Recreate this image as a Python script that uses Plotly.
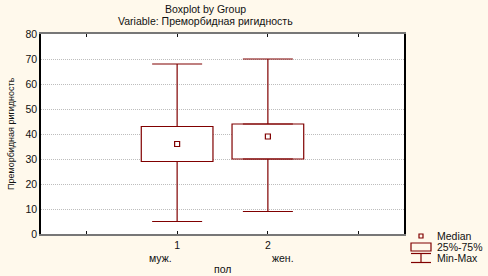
import plotly.graph_objects as go

# ---- data ----
groups = [1, 2]
group_labels = ["муж.", "жен."]
tick_labels = ["1", "2"]
q1 = [29, 30]
median = [36, 39]
q3 = [43, 44]
vmin = [5, 9]
vmax = [68, 70]

DARK = "#800000"
BG = "#FFF9EC"
FONT = "Liberation Sans"

W, H = 488, 276
L, R, T, B = 41, 84, 34, 42
PW, PH = W - L - R, H - T - B


def px(x):
    return (x - L) / PW


def py(y):
    return (H - B - y) / PH


fig = go.Figure()

# box (q1..q3)
fig.add_trace(go.Bar(
    x=groups, base=q1, y=[b - a for a, b in zip(q1, q3)],
    width=0.79, marker=dict(color="white", line=dict(color=DARK, width=1.2)),
    showlegend=False, hoverinfo="skip"))

# upper whisker
fig.add_trace(go.Scatter(
    x=groups, y=q3, mode="markers", marker=dict(size=1, opacity=0),
    error_y=dict(type="data", symmetric=False,
                 array=[b - a for a, b in zip(q3, vmax)], arrayminus=[0, 0],
                 color=DARK, thickness=1.2, width=25),
    showlegend=False, hoverinfo="skip"))

# lower whisker
fig.add_trace(go.Scatter(
    x=groups, y=q1, mode="markers", marker=dict(size=1, opacity=0),
    error_y=dict(type="data", symmetric=False,
                 array=[0, 0], arrayminus=[a - b for a, b in zip(q1, vmin)],
                 color=DARK, thickness=1.2, width=25),
    showlegend=False, hoverinfo="skip"))

# median
fig.add_trace(go.Scatter(
    x=groups, y=median, mode="markers",
    marker=dict(symbol="square-open", size=5, color=DARK, line=dict(width=1.2)),
    showlegend=False, hoverinfo="skip"))


def ann(text, x, y, xanchor="center", size=10.5, angle=0):
    return dict(text=text, x=px(x), y=py(y), xref="paper", yref="paper",
                xanchor=xanchor, yanchor="middle", showarrow=False,
                textangle=angle, font=dict(size=size))


annotations = [
    ann("Boxplot by Group", 205, 9),
    ann("Variable: Преморбидная ригидность", 205, 21),
    ann("Преморбидная ригидность", 11, 134, size=9, angle=-90),
    ann(group_labels[0], 160, 258),
    ann(group_labels[1], 283, 258),
    ann("пол", 222, 269),
    ann("Median", 435, 236, xanchor="left"),
    ann("25%-75%", 435, 247, xanchor="left"),
    ann("Min-Max", 435, 258, xanchor="left"),
]

shapes = [
    # legend: median
    dict(type="rect", xref="paper", yref="paper", x0=px(419), x1=px(423), y0=py(238), y1=py(234),
         line=dict(color=DARK, width=1.2)),
    # legend: box
    dict(type="rect", xref="paper", yref="paper", x0=px(411), x1=px(431), y0=py(251), y1=py(243),
         line=dict(color=DARK, width=1.2)),
    # legend: min-max
    dict(type="line", xref="paper", yref="paper", x0=px(411), x1=px(431), y0=py(253.5), y1=py(253.5),
         line=dict(color=DARK, width=1.2)),
    dict(type="line", xref="paper", yref="paper", x0=px(421), x1=px(421), y0=py(253.5), y1=py(262.5),
         line=dict(color=DARK, width=1.2)),
    dict(type="line", xref="paper", yref="paper", x0=px(411), x1=px(431), y0=py(262.5), y1=py(262.5),
         line=dict(color=DARK, width=1.2)),
]

fig.update_layout(
    width=W, height=H, margin=dict(l=L, r=R, t=T, b=B),
    paper_bgcolor=BG, plot_bgcolor="white",
    font=dict(family=FONT, size=10.5, color="#111111"),
    barmode="overlay",
    annotations=annotations, shapes=shapes,
    xaxis=dict(range=[-0.5, 3.5], tickvals=[0] + groups + [3],
               ticktext=[""] + tick_labels + [""],
               ticks="inside", ticklen=3, tickcolor="#111111",
               showgrid=False, zeroline=False,
               showline=True, linecolor="#777777", linewidth=2, mirror="ticks"),
    yaxis=dict(range=[0, 80], dtick=10, ticks="", showgrid=True,
               gridcolor="#bdbdbd", griddash="1px,1px", gridwidth=1, zeroline=False,
               showline=True, linecolor="#000000", linewidth=1.5, mirror=True),
)

fig.write_html("out.html", config={"displayModeBar": False},
               post_script="document.body.style.margin='0px';")
